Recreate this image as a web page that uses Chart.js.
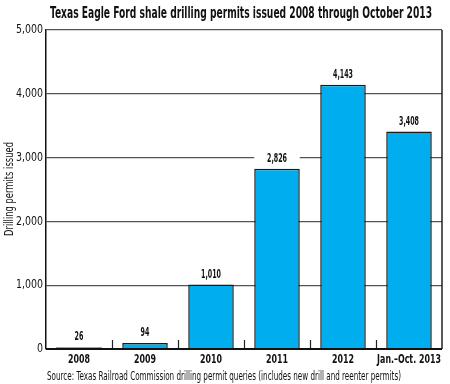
<!DOCTYPE html>
<html>
<head>
<meta charset="utf-8">
<script src="https://cdn.jsdelivr.net/npm/chart.js@4/dist/chart.umd.min.js"></script>
<style>
html,body{margin:0;padding:0;background:#fff;}
#wrap{width:450px;height:384px;position:relative;}
</style>
</head>
<body>
<div id="wrap"><canvas id="chart" width="450" height="384"></canvas></div>
<script>
// data
const years = ["2008","2009","2010","2011","2012","Jan.\u2013Oct. 2013"];
const permits = [26, 94, 1010, 2826, 4143, 3408];
const yTicks = [0, 1000, 2000, 3000, 4000, 5000];

const chartTitle = "Texas Eagle Ford shale drilling permits issued 2008 through October 2013";
const yLabel = "Drilling permits issued";
const sourceNote = "Source: Texas Railroad Commission drilling permit queries (includes new drill and reenter permits)";

const FONT = "'DejaVu Sans Condensed','DejaVu Sans',sans-serif";

// the reference uses a very narrow face, so squeeze text horizontally
function squeeze(ctx, font, sample, target){
    ctx.font = font;
    return target / ctx.measureText(sample).width;
}
function drawText(ctx, txt, x, y, font, sx, align){
    ctx.save();
    ctx.font = font;
    ctx.textAlign = align || "center";
    ctx.textBaseline = "middle";
    ctx.translate(x, y);
    ctx.scale(sx, 1);
    ctx.fillText(txt, 0, 0);
    ctx.restore();
}

const decor = {
    id:"decor",
    beforeDatasetsDraw(chart){
        const {ctx, chartArea:a} = chart;
        ctx.save();
        ctx.strokeStyle = "#222";
        ctx.lineWidth = 1.5;
        ctx.beginPath();
        ctx.moveTo(a.right, a.top); ctx.lineTo(a.right, a.bottom);
        ctx.stroke();
        ctx.restore();
    },
    afterDatasetsDraw(chart){
        const {ctx, chartArea:a} = chart;
        const x = chart.scales.x, y = chart.scales.y;
        ctx.save();
        // short ticks between categories
        ctx.strokeStyle = "#222";
        ctx.lineWidth = 1.2;
        for(let i=0;i<years.length-1;i++){
            const px = Math.round((x.getPixelForValue(i) + x.getPixelForValue(i+1))/2) + 0.5;
            ctx.beginPath();
            ctx.moveTo(px, a.bottom); ctx.lineTo(px, a.bottom-9);
            ctx.stroke();
        }
        // bottom axis
        ctx.strokeStyle = "#111";
        ctx.lineWidth = 2;
        ctx.beginPath();
        ctx.moveTo(a.left, a.bottom); ctx.lineTo(a.right, a.bottom);
        ctx.stroke();

        // value labels with white boxes
        const vFont = "bold 12px " + FONT;
        const sv = squeeze(ctx, vFont, "4,143", 20);
        const boxW = x.width / years.length * 0.69;
        permits.forEach((v,i)=>{
            const px = x.getPixelForValue(i);
            const py = y.getPixelForValue(v) - 10;
            ctx.fillStyle = "#fff";
            ctx.fillRect(px - boxW/2, py - 7, boxW, 14);
            ctx.fillStyle = "#111";
            drawText(ctx, v.toLocaleString("en-US"), px, py, vFont, sv);
        });
        ctx.restore();
    },
    afterDraw(chart){
        const {ctx, chartArea:a} = chart;
        const x = chart.scales.x, y = chart.scales.y;
        ctx.save();
        ctx.fillStyle = "#111";

        const tFont = "bold 16px " + FONT;
        drawText(ctx, chartTitle, 241, 14, tFont, squeeze(ctx, tFont, chartTitle, 382));

        // y tick labels
        const yFont = "12px " + FONT;
        const sy = squeeze(ctx, yFont, "5,000", 27);
        y.ticks.forEach(t=>{
            drawText(ctx, t.value.toLocaleString("en-US"), a.left - 3, y.getPixelForValue(t.value), yFont, sy, "right");
        });

        // x category labels
        const xFont = "bold 13px " + FONT;
        const sxx = squeeze(ctx, xFont, "2008", 22);
        years.forEach((c,i)=>{
            drawText(ctx, c, x.getPixelForValue(i), 360, xFont, sxx);
        });

        const sFont = "12px " + FONT;
        drawText(ctx, sourceNote, 224, 377, sFont, squeeze(ctx, sFont, sourceNote, 354));

        ctx.save();
        ctx.translate(10, 189);
        ctx.rotate(-Math.PI/2);
        const lFont = "12px " + FONT;
        drawText(ctx, yLabel, 0, 0, lFont, squeeze(ctx, lFont, yLabel, 94));
        ctx.restore();

        ctx.restore();
    }
};

new Chart(document.getElementById("chart"), {
    type:"bar",
    data:{
        labels: years,
        datasets:[{
            data: permits,
            backgroundColor:"#00aeef",
            borderColor:"#1a1a1a",
            borderWidth:1.5,
            barPercentage:0.69,
            categoryPercentage:1
        }]
    },
    options:{
        responsive:false,
        animation:false,
        devicePixelRatio:1,
        layout:{ padding:{ top:30, bottom:35, left:0, right:8 } },
        plugins:{ legend:{ display:false }, tooltip:{ enabled:false }, title:{ display:false } },
        scales:{
            x:{
                grid:{ display:false },
                border:{ display:false },
                ticks:{ display:false },
                afterFit(s){ s.height = 0; }
            },
            y:{
                min:0, max:5000,
                afterBuildTicks(s){ s.ticks = yTicks.map(v=>({value:v})); },
                grid:{ color:"#555", lineWidth:1.2, drawTicks:false },
                border:{ color:"#111", width:1.5 },
                ticks:{ display:false },
                afterFit(s){ s.width = 46; }
            }
        }
    },
    plugins:[decor]
});
</script>
</body>
</html>
